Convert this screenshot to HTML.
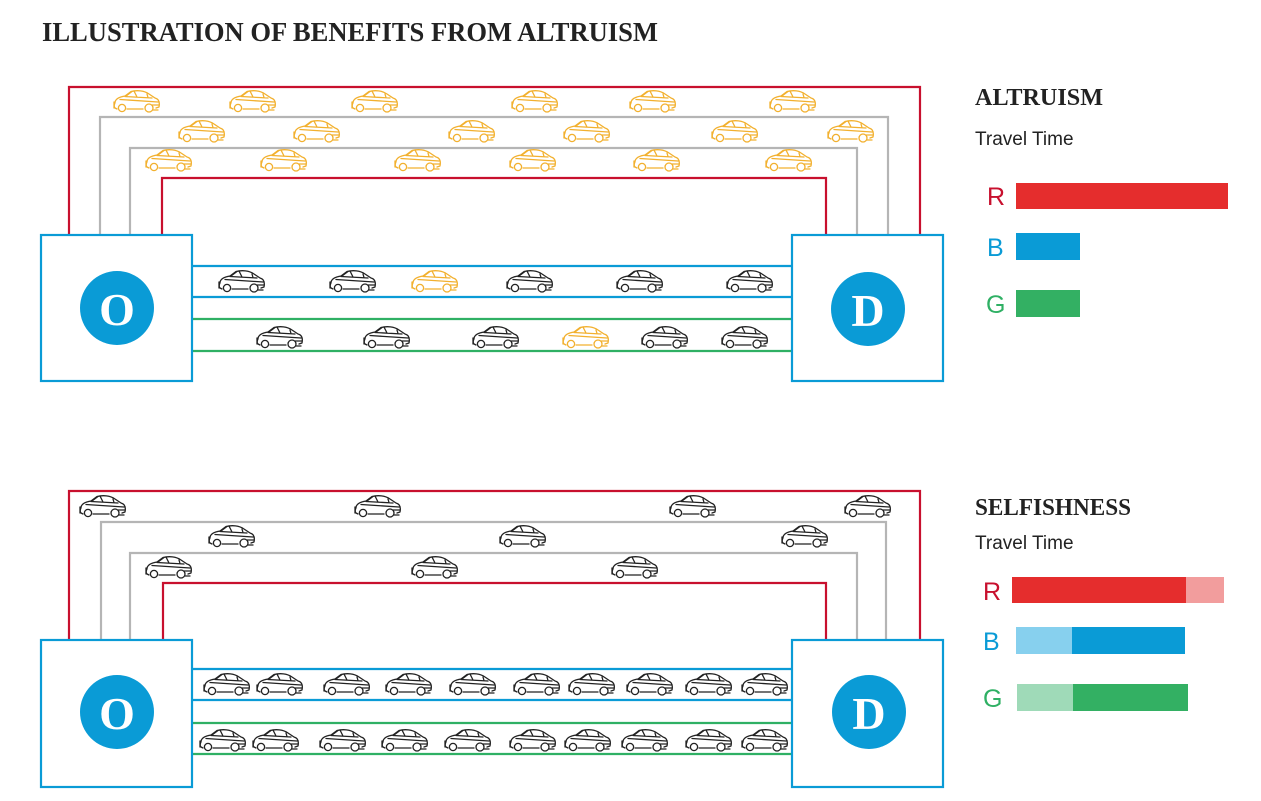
<!DOCTYPE html>
<html><head><meta charset="utf-8"><style>
html,body{margin:0;padding:0;background:#fff;}
svg{display:block;}
</style></head><body>
<svg width="1261" height="801" viewBox="0 0 1261 801" xmlns="http://www.w3.org/2000/svg">
<defs>
<g id="car" fill="none" stroke-width="1.3" stroke-linejoin="round" stroke-linecap="round">
 <path d="M3,13 C3,9 7,7 13,6 L19,1.5 C25,0 32,0.5 37,4 L43,8 C47,9 48,12 47,17 L44,18 M15,19 L31,19 M5,19 L3,18 C2,17 2,15 3,13"/>
 <path d="M14,6 L20,1.5 M22,1 L25,7 M13,6.5 L40,8 M8,9.5 L46,12 M35,4 L36,7.5"/>
 <circle cx="10" cy="18" r="3.6"/><circle cx="37" cy="18" r="4"/>
 <path d="M40,15 L47,15 M41,20 L46,20"/>
 <path d="M2,12 L2,18"/>
</g>
</defs>
<text x="42" y="41" font-family="'Liberation Serif',serif" font-weight="bold" font-size="27" fill="#222" textLength="616" lengthAdjust="spacingAndGlyphs">ILLUSTRATION OF BENEFITS FROM ALTRUISM</text>

<!-- TOP DIAGRAM -->
<g fill="none" stroke-width="2.2">
 <polyline points="69,235 69,87 920,87 920,235" stroke="#c8102e"/>
 <polyline points="100,235 100,117 888,117 888,235" stroke="#b5b5b5"/>
 <polyline points="130,235 130,148 857,148 857,235" stroke="#b5b5b5"/>
 <polyline points="162,235 162,178 826,178 826,235" stroke="#c8102e"/>
 <line x1="192" y1="266" x2="792" y2="266" stroke="#0a9bd6"/>
 <line x1="192" y1="297" x2="792" y2="297" stroke="#0a9bd6"/>
 <line x1="192" y1="319" x2="792" y2="319" stroke="#2fb064"/>
 <line x1="192" y1="351" x2="792" y2="351" stroke="#2fb064"/>
 <rect x="41" y="235" width="151" height="146" stroke="#0a9bd6" fill="#fff"/>
 <rect x="792" y="235" width="151" height="146" stroke="#0a9bd6" fill="#fff"/>
</g>
<circle cx="117" cy="308" r="37" fill="#0a9bd6"/>
<circle cx="868" cy="309" r="37" fill="#0a9bd6"/>
<text x="117" y="325" text-anchor="middle" font-family="'Liberation Serif',serif" font-weight="bold" font-size="46" fill="#fff">O</text>
<text x="868" y="326" text-anchor="middle" font-family="'Liberation Serif',serif" font-weight="bold" font-size="46" fill="#fff">D</text>

<g stroke="#f2b02e">
 <use href="#car" x="112" y="90"/><use href="#car" x="228" y="90"/><use href="#car" x="350" y="90"/><use href="#car" x="510" y="90"/><use href="#car" x="628" y="90"/><use href="#car" x="768" y="90"/>
 <use href="#car" x="177" y="120"/><use href="#car" x="292" y="120"/><use href="#car" x="447" y="120"/><use href="#car" x="562" y="120"/><use href="#car" x="710" y="120"/><use href="#car" x="826" y="120"/>
 <use href="#car" x="144" y="149"/><use href="#car" x="259" y="149"/><use href="#car" x="393" y="149"/><use href="#car" x="508" y="149"/><use href="#car" x="632" y="149"/><use href="#car" x="764" y="149"/>
 <use href="#car" x="410" y="270"/><use href="#car" x="561" y="326"/>
</g>
<g stroke="#222">
 <use href="#car" x="217" y="270"/><use href="#car" x="328" y="270"/><use href="#car" x="505" y="270"/><use href="#car" x="615" y="270"/><use href="#car" x="725" y="270"/>
 <use href="#car" x="255" y="326"/><use href="#car" x="362" y="326"/><use href="#car" x="471" y="326"/><use href="#car" x="640" y="326"/><use href="#car" x="720" y="326"/>
</g>

<!-- BOTTOM DIAGRAM -->
<g fill="none" stroke-width="2.2">
 <polyline points="69,640 69,491 920,491 920,640" stroke="#c8102e"/>
 <polyline points="101,640 101,522 886,522 886,640" stroke="#b5b5b5"/>
 <polyline points="130,640 130,553 857,553 857,640" stroke="#b5b5b5"/>
 <polyline points="163,640 163,583 826,583 826,640" stroke="#c8102e"/>
 <line x1="192" y1="669" x2="792" y2="669" stroke="#0a9bd6"/>
 <line x1="192" y1="700" x2="792" y2="700" stroke="#0a9bd6"/>
 <line x1="192" y1="723" x2="792" y2="723" stroke="#2fb064"/>
 <line x1="192" y1="754" x2="792" y2="754" stroke="#2fb064"/>
 <rect x="41" y="640" width="151" height="147" stroke="#0a9bd6" fill="#fff"/>
 <rect x="792" y="640" width="151" height="147" stroke="#0a9bd6" fill="#fff"/>
</g>
<circle cx="117" cy="712" r="37" fill="#0a9bd6"/>
<circle cx="869" cy="712" r="37" fill="#0a9bd6"/>
<text x="117" y="729" text-anchor="middle" font-family="'Liberation Serif',serif" font-weight="bold" font-size="46" fill="#fff">O</text>
<text x="869" y="729" text-anchor="middle" font-family="'Liberation Serif',serif" font-weight="bold" font-size="46" fill="#fff">D</text>

<g stroke="#222">
 <use href="#car" x="78" y="495"/><use href="#car" x="353" y="495"/><use href="#car" x="668" y="495"/><use href="#car" x="843" y="495"/>
 <use href="#car" x="207" y="525"/><use href="#car" x="498" y="525"/><use href="#car" x="780" y="525"/>
 <use href="#car" x="144" y="556"/><use href="#car" x="410" y="556"/><use href="#car" x="610" y="556"/>
 <use href="#car" x="202" y="673"/><use href="#car" x="255" y="673"/><use href="#car" x="322" y="673"/><use href="#car" x="384" y="673"/><use href="#car" x="448" y="673"/><use href="#car" x="512" y="673"/><use href="#car" x="567" y="673"/><use href="#car" x="625" y="673"/><use href="#car" x="684" y="673"/><use href="#car" x="740" y="673"/>
 <use href="#car" x="198" y="729"/><use href="#car" x="251" y="729"/><use href="#car" x="318" y="729"/><use href="#car" x="380" y="729"/><use href="#car" x="443" y="729"/><use href="#car" x="508" y="729"/><use href="#car" x="563" y="729"/><use href="#car" x="620" y="729"/><use href="#car" x="684" y="729"/><use href="#car" x="740" y="729"/>
</g>

<!-- RIGHT PANEL TOP -->
<text x="975" y="105" font-family="'Liberation Serif',serif" font-weight="bold" font-size="24" fill="#222" textLength="128" lengthAdjust="spacingAndGlyphs">ALTRUISM</text>
<text x="975" y="145" font-family="'Liberation Sans',sans-serif" font-size="19" fill="#222">Travel Time</text>
<g font-family="'Liberation Sans',sans-serif" font-size="25">
<text x="987" y="205" fill="#c8102e">R</text>
<text x="987" y="256" fill="#0a9bd6">B</text>
<text x="986" y="313" fill="#2fb064">G</text>
</g>
<rect x="1016" y="183" width="212" height="26" fill="#e52d2d"/>
<rect x="1016" y="233" width="64" height="27" fill="#0a9bd6"/>
<rect x="1016" y="290" width="64" height="27" fill="#33b063"/>

<!-- RIGHT PANEL BOTTOM -->
<text x="975" y="515" font-family="'Liberation Serif',serif" font-weight="bold" font-size="24" fill="#222" textLength="156" lengthAdjust="spacingAndGlyphs">SELFISHNESS</text>
<text x="975" y="549" font-family="'Liberation Sans',sans-serif" font-size="19" fill="#222">Travel Time</text>
<g font-family="'Liberation Sans',sans-serif" font-size="25">
<text x="983" y="600" fill="#c8102e">R</text>
<text x="983" y="650" fill="#0a9bd6">B</text>
<text x="983" y="707" fill="#2fb064">G</text>
</g>
<rect x="1012" y="577" width="174" height="26" fill="#e52d2d"/>
<rect x="1186" y="577" width="38" height="26" fill="#f29d9d"/>
<rect x="1016" y="627" width="56" height="27" fill="#87d0ee"/>
<rect x="1072" y="627" width="113" height="27" fill="#0a9bd6"/>
<rect x="1017" y="684" width="56" height="27" fill="#9fdab8"/>
<rect x="1073" y="684" width="115" height="27" fill="#33b063"/>
</svg>
</body></html>
